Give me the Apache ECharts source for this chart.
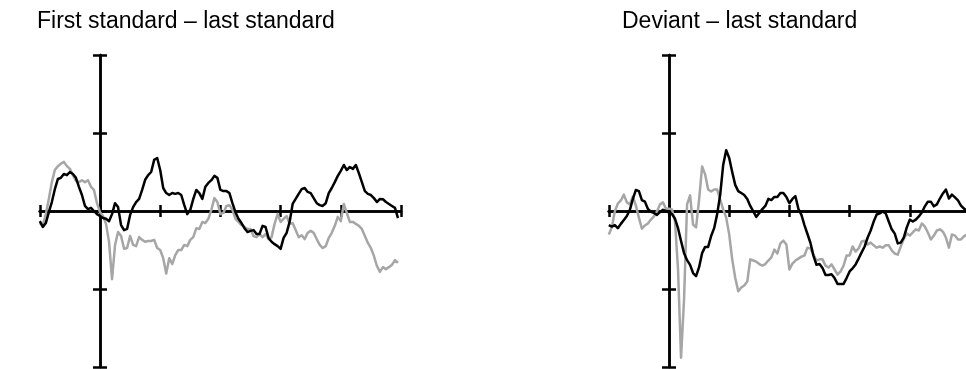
<!DOCTYPE html>
<html>
<head>
<meta charset="utf-8">
<script src="https://cdn.jsdelivr.net/npm/echarts@6/dist/echarts.min.js"></script>
<style>
  html, body { margin: 0; padding: 0; background: #fff; }
  #chart { width: 966px; height: 369px; }
</style>
</head>
<body>
<div id="chart"></div>
<script>
// Difference waves, µV, sampled every 5 ms from -100 ms to 495 ms
const times = Array.from({ length: 120 }, (_, i) => -100 + 5 * i);

const panelTitles = ['First standard – last standard', 'Deviant – last standard'];

// Left panel: first standard minus last standard
const firstStdBlack = [
  -0.26, -0.41, -0.31, -0.03, 0.23, 0.56, 0.82, 0.85, 0.95, 0.92,
  1.0, 0.95, 0.85, 0.62, 0.41, 0.13, 0.05, 0.08, 0, -0.08,
  -0.13, -0.18, -0.2, -0.26, -0.08, 0.2, 0.1, -0.36, -0.49, -0.46,
  -0.1, 0.1, 0.23, 0.31, 0.54, 0.8, 0.92, 1.0, 1.31, 1.36,
  1.05, 0.59, 0.46, 0.41, 0.46, 0.44, 0.46, 0.41, 0.15, -0.08,
  0.03, 0.31, 0.54, 0.46, 0.31, 0.62, 0.72, 0.79, 0.9, 0.85,
  0.54, 0.51, 0.51, 0.46, 0.2, -0.03, -0.2, -0.31, -0.44, -0.54,
  -0.51, -0.49, -0.59, -0.59, -0.38, -0.41, -0.69, -0.79, -0.85, -0.9,
  -0.97, -0.69, -0.56, -0.28, 0.18, 0.31, 0.44, 0.56, 0.59, 0.49,
  0.46, 0.33, 0.2, 0.15, 0.13, 0.2, 0.46, 0.59, 0.74, 0.9,
  1.03, 1.18, 1.05, 1.13, 1.08, 1.18, 0.97, 0.74, 0.51, 0.44,
  0.41, 0.33, 0.23, 0.31, 0.3, 0.23, 0.18, 0.13, 0.08, -0.18
];
const firstStdGrey = [
  -0.31, -0.36, -0.08, 0.31, 0.74, 1.05, 1.15, 1.21, 1.26, 1.15,
  1.08, 0.92, 0.77, 0.74, 0.79, 0.74, 0.79, 0.62, 0.54, 0.2,
  -0.03, -0.13, -0.33, -0.79, -1.75, -0.87, -0.54, -0.64, -0.97, -0.95,
  -0.64, -0.87, -0.9, -0.67, -0.74, -0.79, -0.77, -0.77, -0.74, -0.95,
  -1.0, -1.21, -1.6, -1.21, -1.36, -1.13, -1.0, -1.0, -0.87, -0.9,
  -0.74, -0.67, -0.44, -0.46, -0.28, -0.31, -0.2, 0.03, 0.33, 0.23,
  -0.08, -0.05, 0.13, 0.15, 0.03, -0.2, -0.28, -0.36, -0.41, -0.46,
  -0.46, -0.64, -0.67, -0.59, -0.67, -0.59, -0.72, -0.67, -0.33, -0.08,
  -0.28, -0.2, -0.13, -0.33, -0.31, -0.49, -0.67, -0.62, -0.72, -0.56,
  -0.51, -0.56, -0.72, -0.87, -0.95, -0.9, -0.69, -0.56, -0.38, -0.15,
  -0.26, 0.18, -0.05, -0.28, -0.28, -0.33, -0.38, -0.46, -0.64, -0.82,
  -0.95, -1.15, -1.41, -1.56, -1.44, -1.49, -1.44, -1.38, -1.26, -1.33
];

// Right panel: deviant minus last standard
const deviantBlack = [
  -0.36, -0.4, -0.36, -0.44, -0.33, -0.23, -0.13, 0.03, 0.31, 0.54,
  0.51, 0.28, 0.24, 0.05, -0.02, -0.05, -0.1, -0.03, 0.03, 0,
  -0.04, -0.08, -0.2, -0.44, -0.77, -1.08, -1.26, -1.38, -1.59, -1.67,
  -1.44, -1.08, -0.92, -0.92, -0.64, -0.44, -0.08, 0.41, 1.18, 1.56,
  1.36, 1.0, 0.67, 0.51, 0.46, 0.41, 0.31, 0.13, -0.01, -0.15,
  -0.05, 0.05, 0.13, 0.31, 0.28, 0.36, 0.36, 0.46, 0.46, 0.36,
  0.2, 0.31, 0.38, 0.05, -0.1, -0.36, -0.59, -0.82, -1.15, -1.38,
  -1.36, -1.46, -1.64, -1.64, -1.62, -1.72, -1.87, -1.87, -1.87, -1.72,
  -1.55, -1.47, -1.37, -1.22, -1.06, -0.91, -0.68, -0.5, -0.27, -0.09,
  -0.06, -0.01, -0.06, -0.27, -0.47, -0.58, -0.83, -0.81, -0.68, -0.42,
  -0.22, -0.27, -0.22, -0.14, -0.04, 0.12, 0.24, 0.24, 0.12, 0.17,
  0.32, 0.45, 0.55, 0.32, 0.42, 0.35, 0.27, 0.14, 0.06, 0.01
];
const deviantGrey = [
  -0.6, -0.42, -0.01, 0.19, 0.27, 0.42, 0.22, 0.17, 0.37, 0.14,
  -0.17, -0.45, -0.37, -0.32, -0.22, -0.14, -0.01, 0.17, 0.22, 0.06,
  0.06, 0.04, -0.27, -1.5, -3.76, -2.27, 0.17, 0.4, -0.35, -0.42,
  0.29, 1.14, 0.94, 0.55, 0.5, 0.55, 0.55, 0.29, 0.04, -0.17,
  -0.6, -1.24, -1.71, -2.06, -1.96, -1.91, -1.81, -1.24, -1.27, -1.3,
  -1.36, -1.4, -1.36, -1.27, -1.19, -0.99, -1.09, -0.83, -0.76, -0.86,
  -1.5, -1.35, -1.27, -1.22, -1.17, -1.14, -0.94, -0.96, -1.12, -1.27,
  -1.24, -1.24, -1.4, -1.45, -1.37, -1.5, -1.63, -1.55, -1.4, -1.14,
  -1.14, -0.91, -1.04, -0.96, -0.78, -0.76, -0.86, -0.81, -0.88, -0.94,
  -0.91, -0.94, -0.88, -0.88, -1.01, -1.09, -1.12, -0.91, -0.71, -0.58,
  -0.63, -0.55, -0.47, -0.5, -0.32, -0.4, -0.55, -0.73, -0.63, -0.5,
  -0.47, -0.53, -0.68, -0.94, -0.6, -0.63, -0.73, -0.73, -0.65, -0.6
];

const BLACK = '#000000';
const GREY = '#a6a6a6';

const pairs = (vals) => vals.map((v, i) => [times[i], v]);

const grids = [
  { left: 39.8, top: 55, width: 361.2, height: 312 },
  { left: 608.8, top: 55, width: 361.2, height: 312 }
];

function xAxisFor(gridIndex, position, onZeroY) {
  return {
    type: 'value', gridIndex, position, min: -100, max: 500, interval: 100,
    axisLine: { show: true, onZero: true, onZeroAxisIndex: onZeroY, lineStyle: { color: '#000', width: 2.5 } },
    axisTick: { show: true, inside: false, length: 6, lineStyle: { color: '#000', width: 2.5 } },
    axisLabel: { show: false }, splitLine: { show: false }
  };
}
function yAxisFor(gridIndex, position, onZeroX) {
  return {
    type: 'value', gridIndex, position, min: -4, max: 4, interval: 2,
    axisLine: { show: true, onZero: true, onZeroAxisIndex: onZeroX, lineStyle: { color: '#000', width: 2.5 } },
    axisTick: { show: true, inside: false, length: 7, lineStyle: { color: '#000', width: 2.5 } },
    axisLabel: { show: false }, splitLine: { show: false }
  };
}

function line(xi, yi, vals, color) {
  return {
    type: 'line', xAxisIndex: xi, yAxisIndex: yi, data: pairs(vals),
    showSymbol: false, symbol: 'none', smooth: false, clip: false,
    lineStyle: { color, width: 2.5, join: 'round' }, silent: true
  };
}

const titleStyle = {
  fontFamily: 'Liberation Sans, Arial, sans-serif', fontSize: 23, fontWeight: 'normal', color: '#000'
};

const chart = echarts.init(document.getElementById('chart'), null, { renderer: 'canvas' });
chart.setOption({
  animation: false,
  backgroundColor: '#ffffff',
  title: [
    { text: panelTitles[0], left: 37, top: 10, padding: 0, textStyle: titleStyle },
    { text: panelTitles[1], left: 622, top: 10, padding: 0, textStyle: titleStyle }
  ],
  grid: grids.map(g => Object.assign({ containLabel: false, outerBoundsMode: 'none', show: false }, g)),
  xAxis: [
    xAxisFor(0, 'bottom', 0), xAxisFor(0, 'top', 0),
    xAxisFor(1, 'bottom', 2), xAxisFor(1, 'top', 2)
  ],
  yAxis: [
    yAxisFor(0, 'left', 0), yAxisFor(0, 'right', 0),
    yAxisFor(1, 'left', 2), yAxisFor(1, 'right', 2)
  ],
  series: [
    line(0, 0, firstStdGrey, GREY),
    line(0, 0, firstStdBlack, BLACK),
    line(2, 2, deviantGrey, GREY),
    line(2, 2, deviantBlack, BLACK)
  ]
});
</script>
</body>
</html>
